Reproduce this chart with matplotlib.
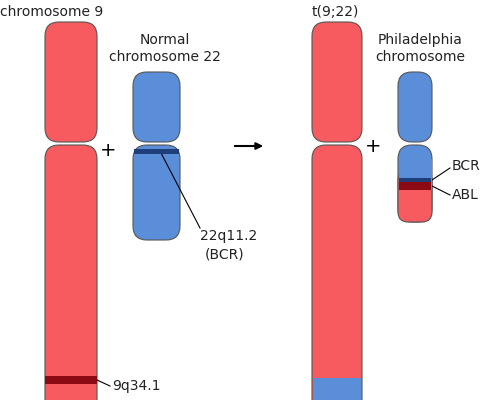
import matplotlib.pyplot as plt
from matplotlib.patches import FancyBboxPatch, Rectangle

RED = "#f75b5f"
BLUE = "#5b8ed8"
DARK_RED = "#8b0a14"
DARK_BLUE = "#1f3f7a"

# arms: (x, y_top, width, height, colour) in pixel units
arms = [
    (45, 22, 52, 120, RED), (45, 145, 52, 275, RED),
    (133, 72, 47, 70, BLUE), (133, 145, 47, 95, BLUE),
    (312, 22, 50, 120, RED), (312, 145, 50, 275, RED),
    (398, 72, 34, 70, BLUE), (398, 145, 34, 77, BLUE),
]
# flat segments drawn over arms: (x, y, w, h, colour)
segments = [
    (45, 376, 52, 8, DARK_RED),
    (134, 149, 45, 5, DARK_BLUE),
    (313, 378, 48, 30, BLUE),
    (399, 178, 32, 4, DARK_BLUE),
    (399, 182, 32, 8, DARK_RED),
]
# Ph lower part colours (red under bands)
ph_red = (398, 190, 34, 32)

labels = [
    (0, 12, "chromosome 9", "left"),
    (165, 40, "Normal", "center"),
    (165, 57, "chromosome 22", "center"),
    (200, 236, "22q11.2", "left"),
    (205, 255, "(BCR)", "left"),
    (112, 386, "9q34.1", "left"),
    (312, 12, "t(9;22)", "left"),
    (420, 40, "Philadelphia", "center"),
    (420, 57, "chromosome", "center"),
    (452, 166, "BCR", "left"),
    (452, 195, "ABL", "left"),
]

fig = plt.figure(figsize=(5, 4), dpi=100)
ax = fig.add_axes([0, 0, 1, 1])
ax.set_xlim(0, 500)
ax.set_ylim(400, 0)
ax.axis("off")

for x, y, w, h, c in arms:
    ax.add_patch(FancyBboxPatch((x, y), w, h, boxstyle="round,pad=0,rounding_size=14",
                                fc=c, ec="#555555", lw=0.8))
# bottom of Ph chromosome is red with rounded corners
x, y, w, h = ph_red
ax.add_patch(FancyBboxPatch((x, y - 20), w, h + 20, boxstyle="round,pad=0,rounding_size=10",
                            fc=RED, ec="#555555", lw=0.8, zorder=2))
ax.add_patch(Rectangle((x + 0.5, 145 + 14), w - 1, 190 - 159, fc=BLUE, zorder=2.5))
for x, y, w, h, c in segments:
    ax.add_patch(Rectangle((x, y), w, h, fc=c, ec="none", zorder=3))

for x, y, s, ha in labels:
    ax.text(x, y, s, ha=ha, va="center", fontsize=10, color="#222222")

ax.text(108, 150, "+", fontsize=14, ha="center", va="center")
ax.text(373, 147, "+", fontsize=14, ha="center", va="center")
ax.annotate("", xy=(266, 146), xytext=(232, 146),
            arrowprops=dict(arrowstyle="-|>", color="black", lw=1.5))

ax.plot([160, 200], [151, 228], color="black", lw=0.8)
ax.plot([97, 110], [380, 386], color="black", lw=0.8)
ax.plot([432, 450], [180, 168], color="black", lw=0.8)
ax.plot([432, 450], [186, 195], color="black", lw=0.8)

fig.savefig("out.png")
